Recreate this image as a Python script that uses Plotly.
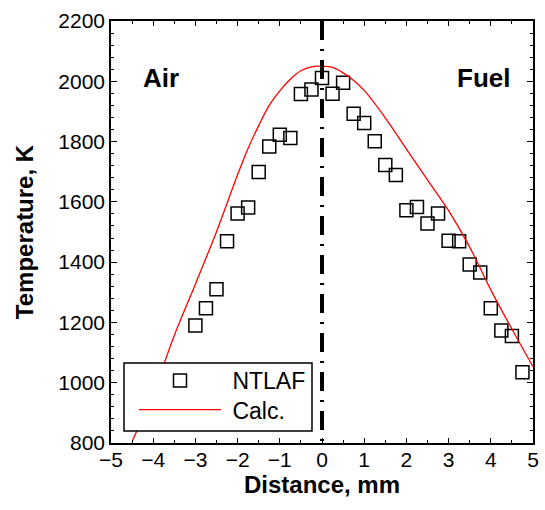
import plotly.graph_objects as go

# NTLAF measurements
meas_x = [-3.0, -2.75, -2.5, -2.25, -2.0, -1.75, -1.5, -1.25, -1.0, -0.75, -0.5, -0.25, 0.0,
          0.25, 0.5, 0.75, 1.0, 1.25, 1.5, 1.75, 2.0, 2.25, 2.5, 2.75, 3.0, 3.25, 3.5, 3.75,
          4.0, 4.25, 4.5, 4.75]
meas_T = [1190, 1247, 1310, 1469, 1561, 1581, 1699, 1784, 1823, 1812, 1958, 1973, 2011,
          1959, 1995, 1892, 1862, 1801, 1722, 1689, 1572, 1583, 1528, 1561, 1471, 1469, 1392, 1366,
          1247, 1173, 1155, 1035]

# Calculated profile
calc_x = [-4.5, -4.0, -3.5, -3.0, -2.5, -2.0, -1.75, -1.5, -1.25, -1.0, -0.75, -0.5, -0.25, 0.0,
          0.25, 0.5, 0.75, 1.0, 1.5, 2.0, 2.5, 3.0, 3.5, 4.0, 4.5, 5.0]
calc_T = [805, 965, 1157, 1327, 1501, 1690, 1778, 1853, 1920, 1968, 2007, 2035, 2048, 2050,
          2046, 2028, 2003, 1970, 1879, 1775, 1673, 1571, 1450, 1308, 1178, 1053]

x_range = [-5, 5]
y_range = [800, 2200]
x_ticks = [-5, -4, -3, -2, -1, 0, 1, 2, 3, 4, 5]
y_ticks = [800, 1000, 1200, 1400, 1600, 1800, 2000, 2200]

FONT = "Liberation Sans, Arial, Helvetica, sans-serif"

fig = go.Figure()
fig.add_trace(go.Scatter(
    x=meas_x, y=meas_T, mode="markers", name=" NTLAF", legend="legend", showlegend=True,
    marker=dict(symbol="square-open", size=13, color="black", line=dict(width=1.5, color="black")),
))
fig.add_trace(go.Scatter(
    x=calc_x, y=calc_T, mode="lines", name=" Calc.", legend="legend2", showlegend=True,
    line=dict(color="red", width=1.3, shape="spline", smoothing=1.0),
))

fig.add_shape(type="line", xref="x", yref="y", x0=0, x1=0, y0=y_range[1], y1=y_range[0],
              line=dict(color="black", width=4, dash="19px,9px,2px,9px"), layer="above")

# legend frame (hides the curve behind the legend)
fig.add_shape(type="rect", xref="paper", yref="paper", x0=0.0308, x1=0.4763, y0=0.0284, y1=0.1896,
              fillcolor="white", line=dict(color="black", width=1.5), layer="above")

fig.add_annotation(text="<b>Air</b>", x=-3.82, y=2010, xref="x", yref="y", showarrow=False,
                   font=dict(family=FONT, size=26, color="black"))
fig.add_annotation(text="<b>Fuel</b>", x=3.83, y=2010, xref="x", yref="y", showarrow=False,
                   font=dict(family=FONT, size=26, color="black"))

axis_common = dict(
    showline=True, linecolor="black", linewidth=1.6, mirror="allticks",
    ticks="inside", tickcolor="black", tickwidth=1.3,
    showgrid=False, zeroline=False, automargin=False,
    tickfont=dict(family=FONT, size=21, color="black"),
)

fig.update_xaxes(
    range=x_range, tickvals=x_ticks, ticklen=5, ticklabelstandoff=-3,
    minor=dict(dtick=0.5, tick0=0, ticks="inside", ticklen=3, tickcolor="black", tickwidth=1.2),
    title=dict(text="<b>Distance, mm</b>", font=dict(family=FONT, size=24, color="black"), standoff=2),
    **axis_common,
)
fig.update_yaxes(
    range=y_range, tickvals=y_ticks, ticklen=6,
    minor=dict(dtick=40, tick0=800, ticks="inside", ticklen=3, tickcolor="black", tickwidth=1.2),
    title=dict(text="<b>Temperature, K</b>", font=dict(family=FONT, size=24, color="black"), standoff=18),
    **axis_common,
)

leg_common = dict(
    xanchor="left", yanchor="top", bgcolor="rgba(0,0,0,0)", borderwidth=0, visible=True,
    font=dict(family=FONT, size=23, color="black"), itemwidth=82,
)

fig.update_layout(
    width=545, height=510, showlegend=True,
    margin=dict(l=111, r=12, t=21, b=67, autoexpand=False),
    plot_bgcolor="white", paper_bgcolor="white",
    font=dict(family=FONT, color="black"),
    legend=dict(x=0.0545, y=0.199, **leg_common),
    legend2=dict(x=0.0545, y=0.130, **leg_common),
)

fig.write_html("out.html", config={"displayModeBar": False},
               post_script="document.body.style.margin='0px';document.body.style.overflow='hidden';")
